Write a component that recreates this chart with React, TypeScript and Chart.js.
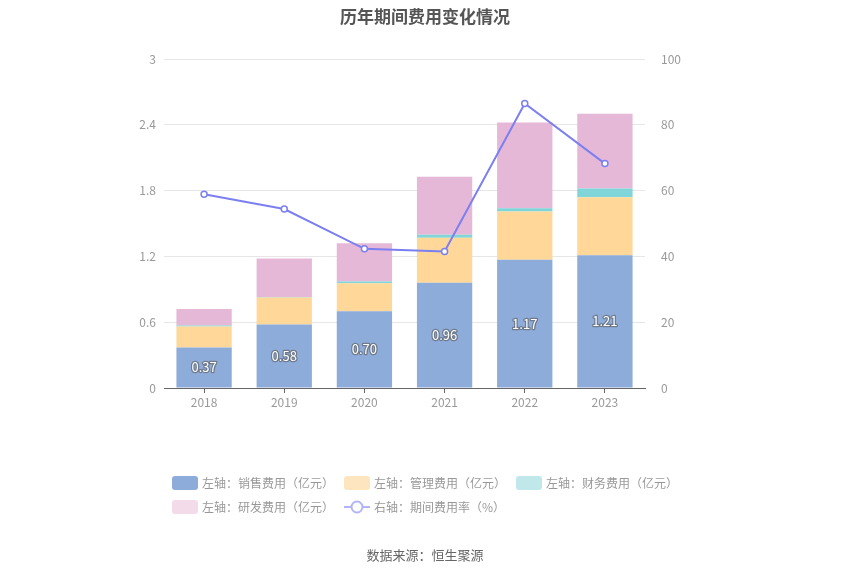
import { useEffect, useRef } from "react"
import { Chart, registerables } from "chart.js"

Chart.register(...registerables)

const years = ["2018", "2019", "2020", "2021", "2022", "2023"]
const salesCost = [0.37, 0.58, 0.7, 0.96, 1.17, 1.21]
const adminCost = [0.19, 0.245, 0.255, 0.41, 0.44, 0.53]
const financeCost = [0.01, 0.005, 0.015, 0.027, 0.03, 0.08]
const rdCost = [0.15, 0.35, 0.35, 0.53, 0.78, 0.68]
const expenseRate = [58.9, 54.4, 42.3, 41.5, 86.5, 68.2]

const leftTicks = [0, 0.6, 1.2, 1.8, 2.4, 3]
const rightTicks = [0, 20, 40, 60, 80, 100]

const FONT = "'Noto Sans CJK SC', 'Noto Sans', sans-serif"

// 蓝色柱子中间的数值
const barLabels = {
  id: "barLabels",
  afterDatasetsDraw(chart: any) {
    const ctx = chart.ctx
    const meta = chart.getDatasetMeta(1)
    ctx.save()
    ctx.font = `13px ${FONT}`
    ctx.textAlign = "center"
    ctx.textBaseline = "middle"
    ctx.lineJoin = "round"
    meta.data.forEach((bar: any, i: number) => {
      const y = (bar.y + bar.base) / 2
      const text = salesCost[i].toFixed(2)
      ctx.strokeStyle = "rgba(90,90,90,0.6)"
      ctx.lineWidth = 2.5
      ctx.strokeText(text, bar.x, y)
      ctx.fillStyle = "#ffffff"
      ctx.fillText(text, bar.x, y)
    })
    ctx.restore()
  },
}

function LegendItem({ color, label, line }: { color: string; label: string; line?: boolean }) {
  return (
    <div style={{ display: "flex", alignItems: "center", width: 172 }}>
      {line ? (
        <svg width="26" height="14" style={{ marginRight: 4 }}>
          <line x1="0" y1="7" x2="26" y2="7" stroke="#b3b5f6" strokeWidth="2" />
          <circle cx="13" cy="7" r="5.5" fill="#fff" stroke="#b3b5f6" strokeWidth="2" />
        </svg>
      ) : (
        <div style={{ width: 26, height: 14, borderRadius: 3, background: color, marginRight: 4 }} />
      )}
      <span style={{ fontSize: 12, color: "#999", whiteSpace: "nowrap" }}>{label}</span>
    </div>
  )
}

export default function App() {
  const chartRef = useRef<HTMLCanvasElement>(null)

  useEffect(() => {
    if (!chartRef.current) return
    const chart = new Chart(chartRef.current, {
      type: "bar",
      data: {
        labels: years,
        datasets: [
          { type: "line", label: "右轴：期间费用率（%）", data: expenseRate, yAxisID: "y1", order: 0,
            borderColor: "#7b7ff0", backgroundColor: "#ffffff", borderWidth: 2,
            pointRadius: 3, pointBorderWidth: 1.5, pointBackgroundColor: "#ffffff", tension: 0 } as any,
          { label: "左轴：销售费用（亿元）", data: salesCost, backgroundColor: "#8eacd9", order: 1, yAxisID: "y" },
          { label: "左轴：管理费用（亿元）", data: adminCost, backgroundColor: "#ffd899", order: 1, yAxisID: "y" },
          { label: "左轴：财务费用（亿元）", data: financeCost, backgroundColor: "#7fd5d8", order: 1, yAxisID: "y" },
          { label: "左轴：研发费用（亿元）", data: rdCost, backgroundColor: "#e6b8d8", order: 1, yAxisID: "y" },
        ],
      },
      options: {
        responsive: false,
        animation: false,
        layout: { padding: { top: 59, left: 0, right: 0, bottom: 0 } },
        datasets: { bar: { categoryPercentage: 1, barPercentage: 0.69 } },
        plugins: { legend: { display: false }, title: { display: false }, tooltip: { enabled: false } },
        scales: {
          x: {
            stacked: true,
            grid: { drawOnChartArea: false, drawTicks: true, tickLength: 5, color: "#666", offset: false },
            border: { color: "#666" },
            ticks: { color: "#999", font: { size: 12, family: FONT }, padding: 2 },
            afterFit: (s: any) => { s.height = 187 },
          },
          y: {
            stacked: true,
            position: "left",
            min: 0,
            max: 3,
            afterBuildTicks: (s: any) => { s.ticks = leftTicks.map((v) => ({ value: v })) },
            grid: { color: "#e6e6e6", drawTicks: false },
            border: { display: false },
            ticks: { color: "#999", font: { size: 12, family: FONT }, padding: 8, callback: (v: any) => String(v) },
            afterFit: (s: any) => { s.width = 164 },
          },
          y1: {
            position: "right",
            min: 0,
            max: 100,
            afterBuildTicks: (s: any) => { s.ticks = rightTicks.map((v) => ({ value: v })) },
            grid: { display: false },
            border: { display: false },
            ticks: { color: "#999", font: { size: 12, family: FONT }, padding: 8 },
            afterFit: (s: any) => { s.width = 205 },
          },
        },
      },
      plugins: [barLabels],
    })
    return () => chart.destroy()
  }, [])

  return (
    <div style={{ position: "absolute", left: 0, top: 0, width: 850, height: 575, background: "#fff", fontFamily: FONT }}>
      <canvas ref={chartRef} width={850} height={575} style={{ position: "absolute", left: 0, top: 0 }} />
      <div style={{ position: "absolute", top: 3, width: 850, textAlign: "center", fontSize: 17, fontWeight: "bold", color: "#555" }}>
        历年期间费用变化情况
      </div>
      <div style={{ position: "absolute", left: 172, top: 474, display: "flex" }}>
        <LegendItem color="#8eacd9" label="左轴：销售费用（亿元）" />
        <LegendItem color="#fde5c0" label="左轴：管理费用（亿元）" />
        <LegendItem color="#c0e8ea" label="左轴：财务费用（亿元）" />
      </div>
      <div style={{ position: "absolute", left: 172, top: 498, display: "flex" }}>
        <LegendItem color="#f3dbea" label="左轴：研发费用（亿元）" />
        <LegendItem color="#b3b5f6" label="右轴：期间费用率（%）" line />
      </div>
      <div style={{ position: "absolute", top: 545, width: 850, textAlign: "center", fontSize: 13, color: "#666" }}>
        数据来源：恒生聚源
      </div>
    </div>
  )
}
